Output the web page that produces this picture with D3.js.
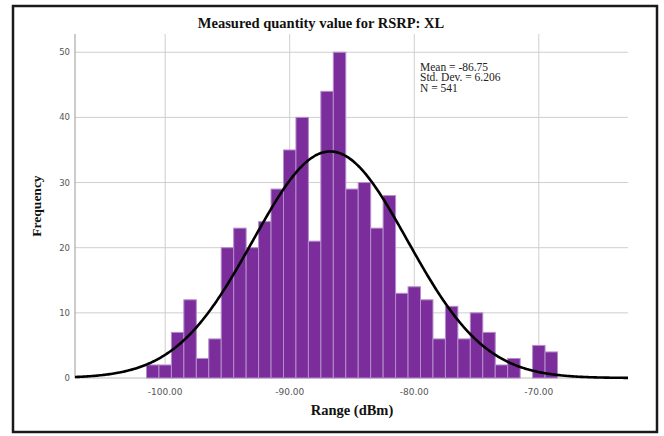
<!DOCTYPE html>
<html>
<head>
<meta charset="utf-8">
<script src="https://cdn.jsdelivr.net/npm/d3@7"></script>
<style>
  html, body { margin: 0; padding: 0; background: #fff; }
  svg { display: block; }
</style>
</head>
<body>
<svg id="chart" width="664" height="436"></svg>
<script>
// ---- Data ----
const binCenters = [-101, -100, -99, -98, -97, -96, -95, -94, -93, -92, -91, -90, -89, -88, -87, -86, -85,
                    -84, -83, -82, -81, -80, -79, -78, -77, -76, -75, -74, -73, -72, -71, -70, -69];
const counts =     [2, 2, 7, 12, 3, 6, 20, 23, 20, 24, 29, 35, 40, 21, 44, 50, 29,
                    30, 23, 28, 13, 14, 12, 6, 11, 6, 10, 7, 2, 3, 0, 5, 4];
const binWidth = 1;
const stats = { mean: -86.75, sd: 6.206, n: 541 };
const statLabels = ["Mean = -86.75", "Std. Dev. = 6.206", "N = 541"];
const xTicks = [-100, -90, -80, -70];
const yTicks = [0, 10, 20, 30, 40, 50];
const titleText = "Measured quantity value for RSRP: XL";
const xLabel = "Range (dBm)";
const yLabel = "Frequency";

// ---- Layout ----
const svg = d3.select("#chart");
const plot = { left: 75, right: 628, top: 34, bottom: 378 };

const x = d3.scaleLinear().domain([-107.24, -62.84]).range([plot.left, plot.right]);
const y = d3.scaleLinear().domain([0, 52.8]).range([plot.bottom, plot.top]);

// outer frame
svg.append("rect")
  .attr("x", 13).attr("y", 6).attr("width", 644).attr("height", 426)
  .attr("fill", "#fff").attr("stroke", "#1a1a1a").attr("stroke-width", 2.5);

// title
svg.append("text")
  .attr("x", 321).attr("y", 28)
  .attr("text-anchor", "middle")
  .attr("font-family", "'Liberation Serif', 'DejaVu Serif', serif")
  .attr("font-weight", "bold").attr("font-size", 14.5)
  .attr("fill", "#111")
  .text(titleText);

// gridlines
const grid = svg.append("g");
grid.selectAll(".hg").data(yTicks.filter(d => d > 0)).enter().append("line")
  .attr("x1", plot.left).attr("x2", plot.right)
  .attr("y1", d => y(d)).attr("y2", d => y(d))
  .attr("stroke", "#cfcfcf").attr("stroke-width", 1);
grid.selectAll(".vg").data(xTicks).enter().append("line")
  .attr("x1", d => x(d)).attr("x2", d => x(d))
  .attr("y1", plot.top).attr("y2", plot.bottom)
  .attr("stroke", "#cfcfcf").attr("stroke-width", 1);

// axes lines
svg.append("line")
  .attr("x1", plot.left).attr("x2", plot.left)
  .attr("y1", plot.top).attr("y2", plot.bottom)
  .attr("stroke", "#999").attr("stroke-width", 1);
svg.append("line")
  .attr("x1", plot.left).attr("x2", plot.right)
  .attr("y1", plot.bottom).attr("y2", plot.bottom)
  .attr("stroke", "#bbb").attr("stroke-width", 1);

// bars
const bins = binCenters.map((c, i) => ({ c, v: counts[i] }));
svg.append("g").selectAll("rect").data(bins.filter(d => d.v > 0)).enter().append("rect")
  .attr("x", d => x(d.c - binWidth / 2))
  .attr("width", d => x(d.c + binWidth / 2) - x(d.c - binWidth / 2))
  .attr("y", d => y(d.v))
  .attr("height", d => y(0) - y(d.v))
  .attr("fill", "#7b2d9b")
  .attr("stroke", "#b58dca").attr("stroke-width", 1);

// normal curve
const dom = x.domain();
const pts = d3.range(0, 401).map(i => {
  const xv = dom[0] + (dom[1] - dom[0]) * i / 400;
  const z = (xv - stats.mean) / stats.sd;
  const f = stats.n * binWidth * Math.exp(-0.5 * z * z) / (stats.sd * Math.sqrt(2 * Math.PI));
  return [xv, f];
});
svg.append("path")
  .datum(pts)
  .attr("d", d3.line().x(d => x(d[0])).y(d => y(d[1])).curve(d3.curveBasis))
  .attr("fill", "none").attr("stroke", "#000").attr("stroke-width", 2.6);

// y tick labels
svg.append("g").selectAll("text").data(yTicks).enter().append("text")
  .attr("x", 70).attr("y", d => y(d))
  .attr("dy", "0.35em")
  .attr("text-anchor", "end")
  .attr("font-family", "'DejaVu Sans', sans-serif").attr("font-size", 8.5)
  .attr("fill", "#555")
  .text(d => d);

// x tick labels
svg.append("g").selectAll("text").data(xTicks).enter().append("text")
  .attr("x", d => x(d)).attr("y", 395)
  .attr("text-anchor", "middle")
  .attr("font-family", "'DejaVu Sans', sans-serif").attr("font-size", 9)
  .attr("fill", "#555")
  .text(d => d.toFixed(2));

// axis titles
svg.append("text")
  .attr("x", 352).attr("y", 415)
  .attr("text-anchor", "middle")
  .attr("font-family", "'Liberation Serif', 'DejaVu Serif', serif")
  .attr("font-weight", "bold").attr("font-size", 14.5)
  .attr("fill", "#111")
  .text(xLabel);

svg.append("text")
  .attr("transform", "translate(41,206) rotate(-90)")
  .attr("text-anchor", "middle")
  .attr("font-family", "'Liberation Serif', 'DejaVu Serif', serif")
  .attr("font-weight", "bold").attr("font-size", 13.5)
  .attr("fill", "#111")
  .text(yLabel);

// stats annotation
svg.append("g").selectAll("text").data(statLabels).enter().append("text")
  .attr("x", 420).attr("y", (d, i) => 70.5 + i * 10.8)
  .attr("font-family", "'Liberation Serif', 'DejaVu Serif', serif")
  .attr("font-size", 11.5)
  .attr("fill", "#222")
  .text(d => d);
</script>
</body>
</html>
